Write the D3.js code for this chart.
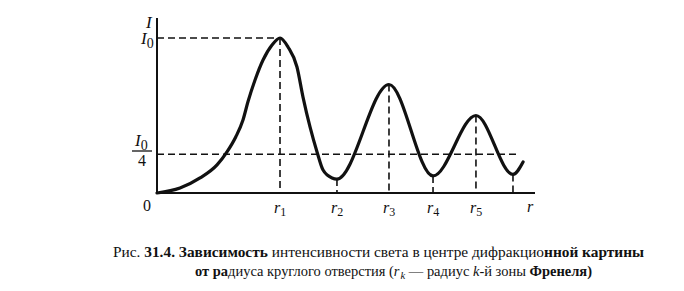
<!DOCTYPE html>
<html>
<head>
<meta charset="utf-8">
<script src="https://d3js.org/d3.v7.min.js"></script>
<style>
  body, html { margin: 0; background: #fff; }
  svg { display: block; }
  text { font-family: "Liberation Serif", "DejaVu Serif", serif; fill: #111; }
  .lbl { font-style: italic; }
  .dash { stroke: #111; stroke-width: 1.6; stroke-dasharray: 7,4; fill: none; }
</style>
</head>
<body>
<div id="chart"></div>
<script>
// zone radii (units: r1 = 1)
var zoneR = [1, 1.463, 1.886, 2.244, 2.593, 2.894];
var zoneLabels = ["1", "2", "3", "4", "5"];
// intensity curve I/I0 vs r
var curveR = [0, 0.187, 0.350, 0.488, 0.569, 0.640, 0.699, 0.740, 0.797, 0.862, 0.935, 1.0,
  1.065, 1.138, 1.187, 1.244, 1.301, 1.350, 1.423, 1.463, 1.886, 2.244, 2.593, 2.894, 2.976];
var curveI = [0, 0.032, 0.097, 0.181, 0.265, 0.361, 0.471, 0.590, 0.729, 0.858, 0.955, 1.0,
  0.942, 0.813, 0.619, 0.426, 0.265, 0.148, 0.097, 0.090, 0.70, 0.11, 0.50, 0.12, 0.20];
var zoneI = [1.0, 0.090, 0.70, 0.11, 0.50, 0.12];
var rMax = 3.073, iMax = 1.129;
var caption1 = [["Рис. ", "normal"], ["31.4. Зависимость ", "bold"], ["интенсивности света в центре дифракцио", "normal"], ["нной картины", "bold"]];
var caption2 = [["от ра", "bold"], ["диуса круглого отверстия (", "normal"], ["r", "italic"], ["k", "sub"], [" — радиус ", "normal"], ["k", "italic"], ["-й зоны ", "normal"], ["Френеля)", "bold"]];

var W = 684, H = 291;
var svg = d3.select("#chart").append("svg").attr("width", W).attr("height", H);

var x = d3.scaleLinear().domain([0, rMax]).range([157, 535]);
var y = d3.scaleLinear().domain([0, 1]).range([193, 38]);

// axes
svg.append("line").attr("x1", x(0)).attr("x2", x(0)).attr("y1", y(0)).attr("y2", y(iMax))
  .attr("stroke", "#111").attr("stroke-width", 2);
svg.append("line").attr("x1", x(0)).attr("x2", x(rMax)).attr("y1", y(0)).attr("y2", y(0))
  .attr("stroke", "#111").attr("stroke-width", 2.2);

// I0 and I0/4 dashed lines
svg.append("line").attr("class", "dash").attr("x1", x(0)).attr("x2", x(zoneR[0])).attr("y1", y(1)).attr("y2", y(1));
svg.append("line").attr("class", "dash").attr("x1", x(0)).attr("x2", x(2.95)).attr("y1", y(0.25)).attr("y2", y(0.25));

// verticals at zone radii
svg.selectAll("line.zone").data(zoneR).enter().append("line")
  .attr("class", "dash zone")
  .attr("x1", d => x(d)).attr("x2", d => x(d))
  .attr("y1", (d, i) => y(zoneI[i])).attr("y2", y(0));

// curve
var line = d3.line().x(d => x(d[0])).y(d => y(d[1])).curve(d3.curveMonotoneX);
svg.append("path").datum(d3.zip(curveR, curveI))
  .attr("d", line).attr("fill", "none").attr("stroke", "#111").attr("stroke-width", 3.2)
  .attr("stroke-linecap", "round");

// y labels
svg.append("text").attr("class", "lbl").attr("x", 146).attr("y", 28).attr("font-size", 17).text("I");
var t0 = svg.append("text").attr("class", "lbl").attr("x", 141).attr("y", y(1) + 6).attr("font-size", 17);
t0.append("tspan").text("I");
t0.append("tspan").attr("dy", 4).attr("font-style", "normal").attr("font-size", 14).text("0");
var t1 = svg.append("text").attr("class", "lbl").attr("x", 135).attr("y", 146).attr("font-size", 17);
t1.append("tspan").text("I");
t1.append("tspan").attr("dy", 4).attr("font-style", "normal").attr("font-size", 14).text("0");
svg.append("line").attr("x1", 132).attr("x2", 152).attr("y1", 151).attr("y2", 151).attr("stroke", "#111").attr("stroke-width", 1.3);
svg.append("text").attr("x", 138).attr("y", 166).attr("font-size", 16).text("4");
svg.append("text").attr("x", 143).attr("y", 211).attr("font-size", 16).text("0");

// r labels
svg.selectAll("text.rl").data(zoneLabels).enter().append("text")
  .attr("class", "rl lbl").attr("x", (d, i) => x(zoneR[i]) - 6).attr("y", 213).attr("font-size", 16)
  .each(function(d) {
    d3.select(this).append("tspan").text("r");
    d3.select(this).append("tspan").attr("dy", 3).attr("font-style", "normal").attr("font-size", 12).text(d);
  });
svg.append("text").attr("class", "lbl").attr("x", 527).attr("y", 212).attr("font-size", 16).text("r");

// caption
function caption(parts, xs, ys, len) {
  var t = svg.append("text").attr("x", xs).attr("y", ys).attr("font-size", 15)
    .attr("textLength", len).attr("lengthAdjust", "spacingAndGlyphs");
  parts.forEach((p, i) => {
    var s = t.append("tspan").text(p[0]);
    if (p[1] === "bold") s.attr("font-weight", "bold");
    if (p[1] === "italic") s.attr("font-style", "italic");
    if (p[1] === "sub") s.attr("font-style", "italic").attr("font-size", 11).attr("dy", 3).attr("dx", 1);
    else if (i > 0 && parts[i - 1][1] === "sub") s.attr("dy", -3);
  });
}
caption(caption1, 113, 257, 531);
caption(caption2, 195, 276, 397);
</script>
</body>
</html>
